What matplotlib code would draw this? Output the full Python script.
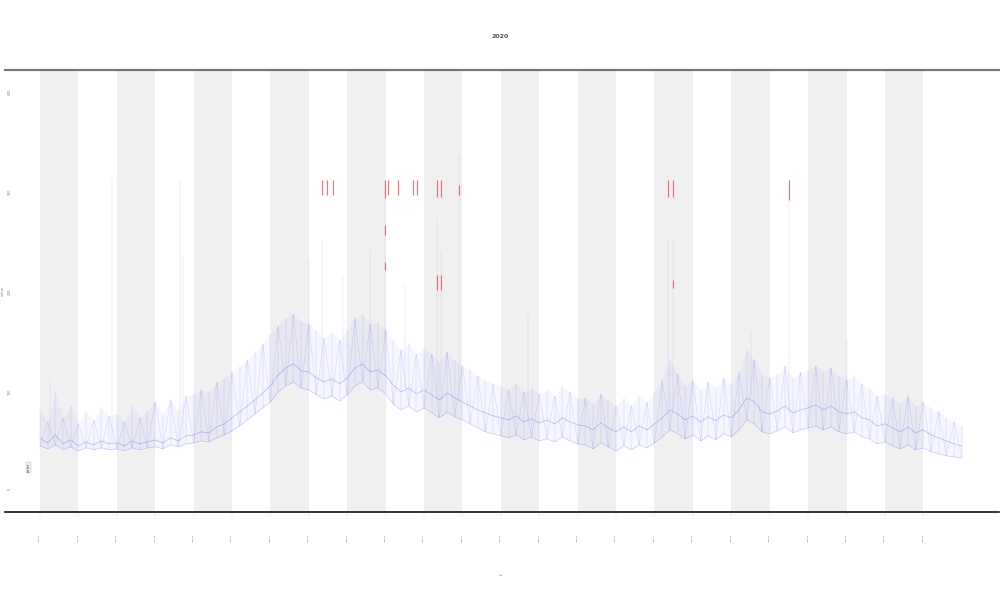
import matplotlib
matplotlib.use("Agg")
import matplotlib.pyplot as plt

# time axis (days), one sample every 0.2 day
t = [round(i * 0.2, 1) for i in range(121)]

# main (blue) series
level = [52, 47, 55, 46, 50, 44, 48, 45, 49, 46, 47, 44, 49, 46, 48, 50,
         47, 52, 49, 54, 55, 58, 57, 63, 66, 72, 78, 84, 90, 97, 104,
         115, 122, 126, 119, 118, 112, 108, 111, 106, 112, 122, 126, 118, 120, 114,
         105, 98, 102, 96, 100, 95, 90, 97, 92, 88, 84, 80, 77, 74, 72,
         70, 74, 68, 71, 67, 70, 66, 72, 68, 65, 64, 60, 67, 62, 58,
         63, 58, 64, 60, 66, 72, 80, 76, 70, 74, 68, 73, 69, 75, 72,
         80, 92, 88, 78, 76, 79, 84, 77, 80, 82, 85, 80, 84, 78, 76,
         78, 72, 70, 64, 66, 62, 58, 63, 57, 60, 55, 52, 49, 46, 44]

# lower and upper noise envelope around the level
low = [44, 41, 45, 40, 43, 39, 42, 40, 42, 40, 41, 39, 42, 40, 42, 43,
       41, 45, 43, 46, 47, 49, 48, 52, 55, 59, 64, 70, 76, 82, 88,
       98, 104, 108, 102, 100, 95, 91, 94, 89, 95, 104, 108, 100, 102, 96,
       86, 80, 84, 78, 82, 77, 72, 78, 73, 70, 66, 62, 58, 56, 54,
       52, 55, 50, 53, 49, 51, 48, 53, 49, 46, 45, 41, 47, 43, 39,
       44, 40, 45, 42, 47, 53, 60, 56, 51, 55, 49, 54, 50, 56, 53,
       60, 70, 66, 58, 56, 59, 63, 57, 60, 62, 64, 60, 63, 58, 56,
       58, 53, 51, 46, 48, 44, 41, 45, 40, 42, 38, 36, 34, 33, 32]
high = [80, 68, 98, 72, 84, 66, 78, 70, 82, 74, 76, 68, 84, 72, 80, 88,
        76, 90, 80, 94, 96, 100, 98, 108, 112, 118, 124, 130, 138, 146, 156,
        164, 172, 176, 168, 166, 160, 152, 158, 150, 160, 172, 176, 166, 168, 160,
        150, 140, 146, 136, 142, 136, 128, 138, 130, 124, 120, 114, 110, 106, 104,
        100, 106, 98, 102, 96, 100, 94, 104, 98, 92, 92, 86, 96, 90, 84,
        92, 84, 94, 88, 98, 110, 130, 116, 104, 110, 100, 108, 102, 112, 106,
        118, 140, 130, 116, 112, 116, 124, 112, 118, 120, 124, 118, 122, 114, 110,
        114, 106, 102, 94, 96, 92, 86, 94, 84, 88, 82, 78, 72, 68, 64]

# isolated tall spikes (day, top value)
spike_t = [0.25, 1.87, 3.65, 3.73, 7.0, 7.34, 7.9, 8.6, 8.98, 9.5,
           10.34, 10.44, 10.91, 12.7, 16.35, 16.48, 18.5, 19.5, 21.0]
spike_top = [110, 310, 310, 235, 230, 250, 215, 240, 300, 205,
             270, 240, 335, 175, 250, 250, 160, 295, 150]

# red flag segments (day, bottom, top)
flag_t = [7.34, 7.47, 7.63, 8.98, 8.98, 8.98, 9.06, 9.32, 9.71, 9.82,
          10.34, 10.44, 10.34, 10.44, 10.91, 16.35, 16.48, 16.48, 19.5]
flag_lo = [295, 295, 295, 292, 255, 220, 295, 295, 295, 295,
           293, 293, 200, 200, 295, 293, 293, 202, 290]
flag_hi = [310, 310, 310, 310, 265, 228, 310, 310, 310, 310,
           310, 310, 215, 215, 305, 310, 310, 210, 310]

day_labels = ["Jan %02d" % (d + 1) for d in range(24)]
y_ticks = [0, 100, 200, 300, 400]

fig = plt.figure(figsize=(10, 6), dpi=100)
ax = fig.add_axes([0.005, 0.147, 0.994, 0.736])

# alternating day bands
for d in range(0, 24, 2):
    ax.axvspan(d, d + 1, color="#f0f0f0", lw=0, zorder=0)

# noisy texture: zig-zag between the read-off troughs and peaks
zig = [low[i] if i % 2 == 0 else high[i] for i in range(len(t))]
ax.fill_between(t, low, high, color="#8080ff", alpha=0.07, lw=0, zorder=2)
ax.plot(t, zig, color="#5050ff", lw=0.3, alpha=0.25, zorder=3)
ax.plot(t, level, color="#4040ff", lw=0.5, alpha=0.35, zorder=3)
ax.plot(t, low, color="#4040ff", lw=0.4, alpha=0.3, zorder=3)
ax.vlines(t, low, high, color="#5a5aff", lw=0.3, alpha=0.3, zorder=3)
ax.vlines(spike_t, [level[int(round(s / 0.2))] for s in spike_t], spike_top,
          color="#8888dd", lw=0.35, alpha=0.3, zorder=3)
ax.vlines(flag_t, flag_lo, flag_hi, color="#ff2020", lw=0.8, alpha=0.65, zorder=5)

ax.set_xlim(-0.91, 24.97)
ax.set_ylim(-22, 420)
ax.set_xticks(range(24))
ax.set_xticklabels(day_labels, rotation=90, fontsize=1.6, color="#555555")
ax.set_yticks(y_ticks)
ax.set_yticklabels([str(v) for v in y_ticks], rotation=90, fontsize=2.4, color="#777777")
ax.tick_params(axis="x", length=3, width=0.3, color="#cccccc", pad=14)
ax.tick_params(axis="y", length=0, pad=-5)

for side in ["left", "right"]:
    ax.spines[side].set_visible(False)
ax.spines["top"].set_color("#777777")
ax.spines["top"].set_linewidth(1.6)
ax.spines["bottom"].set_color("#111111")
ax.spines["bottom"].set_linewidth(1.2)

ax.set_ylabel("value", fontsize=2.6, color="#777777")
ax.yaxis.set_label_coords(0.0, 0.5)
ax.set_xlabel("t", fontsize=3, color="#666666", rotation=90)
ax.xaxis.set_label_coords(0.5, -0.14)

# tiny legend box bottom-left
ax.text(-0.3, 22, "series", rotation=90, fontsize=2.2, color="#333333",
        ha="center", va="center",
        bbox=dict(boxstyle="square,pad=0.3", fc="#eeeeee", ec="#bbbbbb", lw=0.3))

fig.text(0.5, 1 - 37 / 600, "2020", fontsize=4.5, fontweight="bold",
         color="#555555", ha="center", va="center")

fig.savefig("out.png", dpi=100)
